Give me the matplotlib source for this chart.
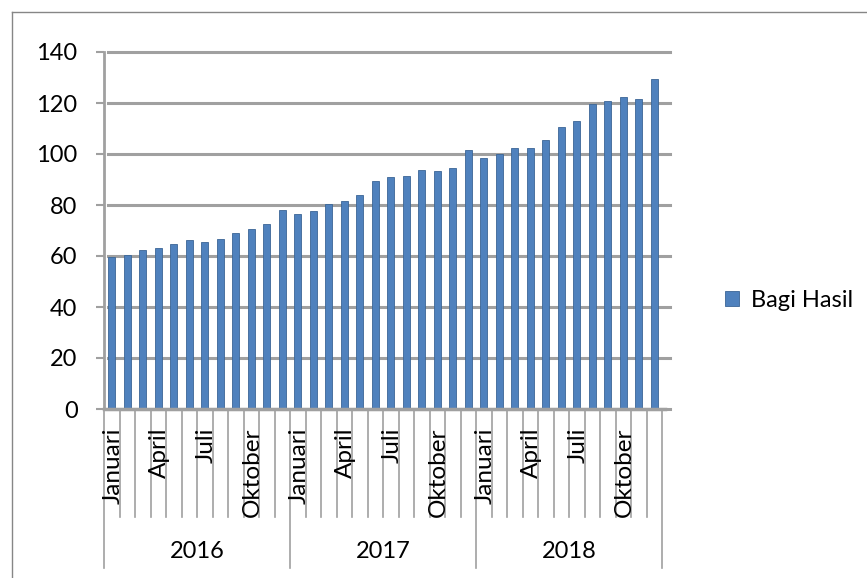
import numpy as np
import matplotlib.pyplot as plt
from matplotlib.lines import Line2D

plt.rcParams['font.family'] = ['Lato', 'DejaVu Sans']

years = ['2016', '2017', '2018']
months = ['Januari', 'Februari', 'Maret', 'April', 'Mei', 'Juni', 'Juli',
          'Agustus', 'September', 'Oktober', 'November', 'Desember']
shown_months = ['Januari', 'April', 'Juli', 'Oktober']

bagi_hasil = [59.5, 60.4, 62.2, 63.0, 64.6, 66.1, 65.4, 66.5, 69.1, 70.5, 72.4, 78.0,
              76.3, 77.6, 80.3, 81.7, 84.0, 89.4, 91.1, 91.4, 93.6, 93.3, 94.6, 101.5,
              98.6, 100.1, 102.2, 102.2, 105.4, 110.7, 112.9, 119.5, 120.8, 122.5, 121.7, 129.3]

W, H = 867, 578
fig = plt.figure(figsize=(W / 100, H / 100), dpi=100)

# outer chart frame (clipped on right and bottom like the source)
fig.add_artist(Line2D([12 / W, 12 / W], [0, 1 - 12 / H], transform=fig.transFigure,
                      color='#868686', lw=1))
fig.add_artist(Line2D([12 / W, 1], [1 - 12 / H, 1 - 12 / H], transform=fig.transFigure,
                      color='#868686', lw=1))

ax = fig.add_axes([104 / W, 169 / H, 558 / W, 357 / H])

x = np.arange(len(bagi_hasil))
ax.bar(x, bagi_hasil, width=0.46, color='#4F81BD', edgecolor='#3B6596', linewidth=0.6,
       label='Bagi Hasil', zorder=3)

ax.set_xlim(-0.5, len(bagi_hasil) - 0.5)
ax.set_ylim(0, 140)
ax.set_yticks(range(0, 141, 20))
ax.set_xticks([])

for s in ['top', 'right', 'bottom']:
    ax.spines[s].set_visible(False)
ax.spines['left'].set_color('#a0a0a0')
ax.spines['left'].set_linewidth(2)
ax.tick_params(axis='y', length=6, width=1.5, color='#a0a0a0', pad=13, labelsize=17)

# gridlines on the back wall
for v in range(0, 141, 20):
    ax.axhline(v, xmin=0.007, xmax=1.014, color='#a0a0a0', lw=2.2, zorder=1, clip_on=False)
ax.axhline(0, xmin=0.0, xmax=1.005, color='#a0a0a0', lw=2.5, zorder=4, clip_on=False)

# category axis: month dividers and year dividers
trans = ax.get_xaxis_transform()
n = len(bagi_hasil)
for k in range(n + 1):
    xb = k - 0.5
    if k % 12 == 0:
        ax.plot([xb, xb], [0, -0.445], transform=trans, color='#a0a0a0', lw=1.2, clip_on=False)
    else:
        ax.plot([xb, xb], [0, -0.3025], transform=trans, color='#a0a0a0', lw=1.2, clip_on=False)

for i, yr in enumerate(years):
    for m in shown_months:
        idx = i * 12 + months.index(m)
        ax.text(idx + 0.1, -0.053, m, transform=trans, rotation=90, ha='center', va='top',
                fontsize=17.5)
    ax.text(i * 12 + 5.5, -0.40, yr, transform=trans, ha='center', va='center', fontsize=17)

ax.legend(loc='center left', bbox_to_anchor=(1.075, 0.305), frameon=False, fontsize=17,
          handlelength=0.6, handleheight=0.6, handletextpad=0.5)

fig.savefig('out.png', dpi=100)
